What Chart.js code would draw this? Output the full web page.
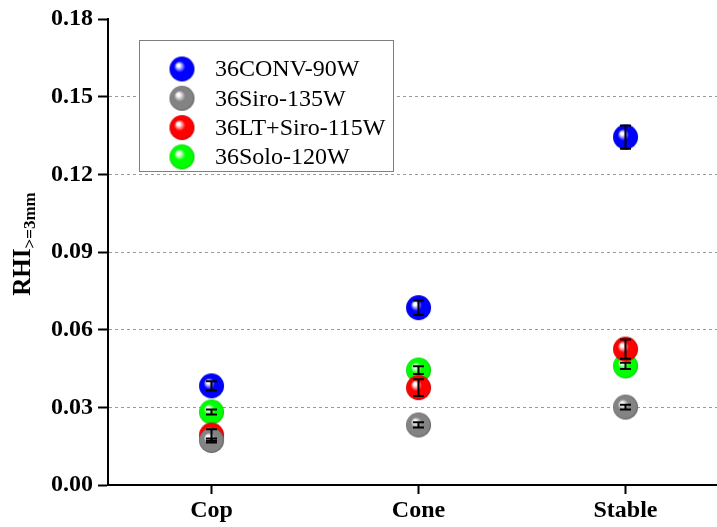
<!DOCTYPE html>
<html>
<head>
<meta charset="utf-8">
<script src="https://cdn.jsdelivr.net/npm/chart.js@4"></script>
<style>
  body { margin: 0; background: #fff; }
  #wrap { position: relative; width: 717px; height: 527px; }
</style>
</head>
<body>
<div id="wrap"><canvas id="myChart"></canvas></div>
<script>
const categories = ['Cop', 'Cone', 'Stable'];
const seriesNames = ['36CONV-90W', '36Siro-135W', '36LT+Siro-115W', '36Solo-120W'];
const yTicks = [0, 0.03, 0.06, 0.09, 0.12, 0.15, 0.18];

const conv = [0.0383, 0.0685, 0.1344];
const convErr = [0.0018, 0.0028, 0.0045];
const siro = [0.0172, 0.0232, 0.0301];
const siroErr = [0.0008, 0.0010, 0.0009];
const ltSiro = [0.0193, 0.0376, 0.0525];
const ltSiroErr = [0.0022, 0.0032, 0.0037];
const solo = [0.0282, 0.0444, 0.0460];
const soloErr = [0.0010, 0.0015, 0.0012];

const colors = {
  blue: ['#0000ff', '#0000c8'],
  gray: ['#838383', '#606060'],
  red: ['#ff0000', '#c80000'],
  green: ['#00ff00', '#00c800'],
};

const serif = "'Liberation Serif', 'Times New Roman', serif";

// shaded ball used as the marker
function sphere(c) {
  const cv = document.createElement('canvas');
  cv.width = cv.height = 27;
  const g = cv.getContext('2d');
  const r = 12.5, cx = 13.5, cy = 13.5;
  const grad = g.createRadialGradient(cx - 4, cy - 4, 0, cx, cy, r);
  grad.addColorStop(0, '#ffffff');
  grad.addColorStop(0.12, '#ffffff');
  grad.addColorStop(0.45, c[0]);
  grad.addColorStop(0.88, c[0]);
  grad.addColorStop(1, c[1]);
  g.fillStyle = grad;
  g.beginPath();
  g.arc(cx, cy, r, 0, Math.PI * 2);
  g.fill();
  return cv;
}

const series = [
  { label: seriesNames[0], values: conv, err: convErr, img: sphere(colors.blue) },
  { label: seriesNames[1], values: siro, err: siroErr, img: sphere(colors.gray) },
  { label: seriesNames[2], values: ltSiro, err: ltSiroErr, img: sphere(colors.red) },
  { label: seriesNames[3], values: solo, err: soloErr, img: sphere(colors.green) },
];

const errorBars = {
  id: 'errorBars',
  afterDatasetsDraw(chart) {
    const { ctx, scales: { y } } = chart;
    ctx.save();
    ctx.strokeStyle = '#000';
    ctx.lineWidth = 2;
    series.forEach((s, di) => {
      chart.getDatasetMeta(di).data.forEach((pt, i) => {
        const top = y.getPixelForValue(s.values[i] + s.err[i]);
        const bot = y.getPixelForValue(s.values[i] - s.err[i]);
        ctx.beginPath();
        ctx.moveTo(pt.x, top); ctx.lineTo(pt.x, bot);
        ctx.moveTo(pt.x - 5.5, top); ctx.lineTo(pt.x + 5.5, top);
        ctx.moveTo(pt.x - 5.5, bot); ctx.lineTo(pt.x + 5.5, bot);
        ctx.stroke();
      });
    });
    ctx.restore();
  }
};

const boxLegend = {
  id: 'boxLegend',
  afterDraw(chart) {
    const { ctx, chartArea } = chart;
    const x0 = chartArea.left + 31, y0 = chartArea.top + 21;
    ctx.save();
    ctx.fillStyle = '#fff';
    ctx.fillRect(x0, y0, 254, 131);
    ctx.strokeStyle = '#7f7f7f';
    ctx.lineWidth = 1;
    ctx.strokeRect(x0 + 0.5, y0 + 0.5, 254, 131);
    ctx.font = '24px ' + serif;
    ctx.fillStyle = '#000';
    ctx.textBaseline = 'middle';
    series.forEach((s, i) => {
      const cy = y0 + 29 + i * 29.3;
      ctx.drawImage(s.img, x0 + 43 - 13.5, cy - 13.5);
      ctx.fillText(s.label, x0 + 76, cy + 1);
    });
    ctx.restore();
  }
};

const yTitle = {
  id: 'yTitle',
  afterDraw(chart) {
    const { ctx } = chart;
    ctx.save();
    const big = 'bold 25px ' + serif, small = 'bold 17px ' + serif;
    ctx.font = big;
    const w1 = ctx.measureText('RHI').width;
    ctx.font = small;
    const w2 = ctx.measureText('>=3mm').width;
    ctx.translate(30, 244 + (w1 + w2) / 2);
    ctx.rotate(-Math.PI / 2);
    ctx.fillStyle = '#000';
    ctx.textBaseline = 'alphabetic';
    ctx.font = big;
    ctx.fillText('RHI', 0, 0);
    ctx.font = small;
    ctx.fillText('>=3mm', w1, 5);
    ctx.restore();
  }
};

const ctx = document.getElementById('myChart').getContext('2d');
new Chart(ctx, {
  type: 'scatter',
  data: {
    datasets: series.map((s) => ({
      label: s.label,
      data: s.values.map((v, i) => ({ x: i + 1, y: v })),
      pointStyle: s.img,
      pointRadius: 13,
    })),
  },
  options: {
    responsive: true,
    maintainAspectRatio: false,
    animation: false,
    events: [],
    layout: { autoPadding: false, padding: { top: 19, left: 0, right: 0, bottom: 0 } },
    plugins: { legend: { display: false }, tooltip: { enabled: false } },
    scales: {
      x: {
        type: 'linear',
        min: 0.5,
        max: 3.442,
        afterBuildTicks: (s) => { s.ticks = categories.map((c, i) => ({ value: i + 1 })); },
        afterFit: (s) => { s.height = 42; s.paddingLeft = 0; s.paddingRight = 0; },
        ticks: {
          callback: (v) => categories[Math.round(v) - 1],
          font: { family: serif, size: 24, weight: 'bold' },
          color: '#000',
          padding: 2,
          maxRotation: 0,
        },
        grid: { drawOnChartArea: false, tickLength: 9, tickColor: '#000', tickWidth: 2 },
        border: { color: '#000', width: 2 },
      },
      y: {
        min: 0,
        max: 0.18,
        afterBuildTicks: (s) => { s.ticks = yTicks.map((v) => ({ value: v })); },
        afterFit: (s) => { s.width = 108; s.paddingTop = 0; s.paddingBottom = 0; },
        ticks: {
          callback: (v) => v.toFixed(2),
          font: { family: serif, size: 24, weight: 'bold' },
          color: '#000',
          padding: 5,
        },
        grid: {
          color: (c) => (c.tick && c.tick.value > 0.001 && c.tick.value < 0.179) ? '#9a9a9a' : 'rgba(0,0,0,0)',
          lineWidth: 1,
          tickLength: 10,
          tickColor: '#000',
          tickWidth: 2,
          tickBorderDash: [],
        },
        border: { color: '#000', width: 2, dash: [3, 3] },
      },
    },
  },
  plugins: [errorBars, boxLegend, yTitle],
});
</script>
</body>
</html>
